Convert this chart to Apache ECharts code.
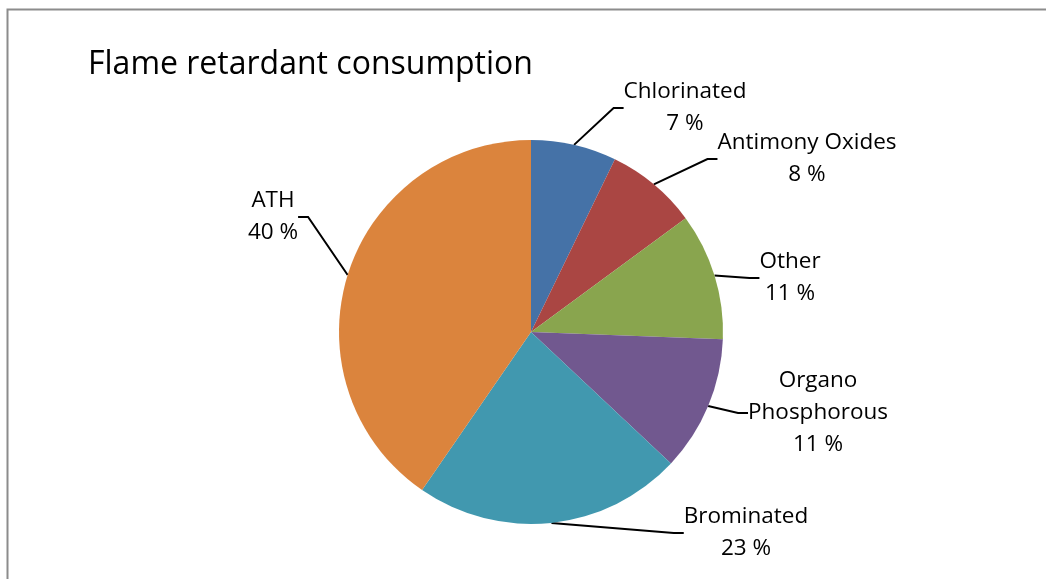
<!DOCTYPE html>
<html>
<head>
<meta charset="utf-8">
<script src="https://cdn.jsdelivr.net/npm/echarts@6/dist/echarts.min.js"></script>
<style>
html,body{margin:0;padding:0;background:#fff;}
#chart{width:1046px;height:579px;}
</style>
</head>
<body>
<div id="chart"></div>
<script>
const categories = ['Chlorinated', 'Antimony Oxides', 'Other', 'Organo\nPhosphorous', 'Brominated', 'ATH'];
// slice sizes; labels show rounded percentages
const values = [7.2, 7.7, 10.7, 11.4, 22.6, 40.4];
const colors = ['#4572A7', '#AA4643', '#89A54E', '#71588F', '#4198AF', '#DB843D'];
const titleText = 'Flame retardant consumption';

// label block centres (layout only)
const labelPos = [[685, 108], [807, 159], [790, 278], [818, 413], [746, 533], [273, 217]];

const chart = echarts.init(document.getElementById('chart'));
const FONT = '"Open Sans", "Noto Sans", sans-serif';
chart.setOption({
  animation: false,
  backgroundColor: '#fff',
  title: {
    text: titleText,
    left: 83,
    top: 44,
    textStyle: { fontFamily: FONT, fontSize: 32, fontWeight: 'normal', color: '#000' }
  },
  graphic: [{
    type: 'rect',
    shape: { x: 7.5, y: 9.5, width: 1100, height: 700 },
    style: { fill: 'none', stroke: '#8c8c8c', lineWidth: 2 },
    silent: true
  }],
  series: [{
    type: 'pie',
    center: [531, 332],
    radius: [0, 192],
    startAngle: 90,
    clockwise: true,
    data: categories.map((c, i) => ({ name: c, value: values[i], itemStyle: { color: colors[i] } })),
    label: {
      show: true,
      formatter: p => p.name + '\n' + Math.round(p.value) + ' %',
      fontFamily: FONT,
      fontSize: 22.5,
      lineHeight: 32,
      color: '#000',
      align: 'center'
    },
    labelLine: {
      show: true,
      length: 15,
      length2: 10,
      lineStyle: { color: '#000', width: 2 }
    },
    labelLayout: function (params) {
      const p = labelPos[params.dataIndex];
      return { x: p[0], y: p[1], align: 'center', verticalAlign: 'middle' };
    },
    emphasis: { disabled: true }
  }]
});
</script>
</body>
</html>
